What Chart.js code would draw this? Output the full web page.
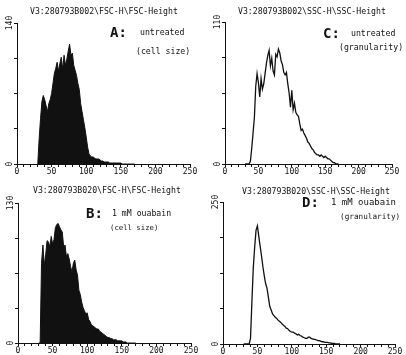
<!DOCTYPE html>
<html>
<head>
<meta charset="utf-8">
<script src="https://cdn.jsdelivr.net/npm/chart.js@4.4.1/dist/chart.umd.min.js"></script>
<style>
  html, body { margin: 0; padding: 0; background: #fff; }
  #page { position: relative; width: 406px; height: 355px; overflow: hidden;
          font-family: 'DejaVu Sans Mono', monospace; color: #111; }
  canvas { position: absolute; }
  .lbl { position: absolute; white-space: nowrap; font-size: 8.2px; line-height: 10px; }
  .big { position: absolute; white-space: nowrap; font-size: 14px; line-height: 14px; font-weight: bold; }
</style>
</head>
<body>
<div id="page">
  <canvas id="chartA" width="203" height="178" style="left:0;top:0"></canvas>
  <canvas id="chartC" width="203" height="178" style="left:203px;top:0"></canvas>
  <canvas id="chartB" width="203" height="177" style="left:0;top:178px"></canvas>
  <canvas id="chartD" width="203" height="177" style="left:203px;top:178px"></canvas>

  <div class="lbl" style="left:30px;top:6px">V3:280793B002\FSC-H\FSC-Height</div>
  <div class="big" style="left:110px;top:25px">A:</div>
  <div class="lbl" style="left:140px;top:27px">untreated</div>
  <div class="lbl" style="left:136px;top:46px">(cell size)</div>

  <div class="lbl" style="left:238px;top:6px">V3:280793B002\SSC-H\SSC-Height</div>
  <div class="big" style="left:323px;top:26px">C:</div>
  <div class="lbl" style="left:351px;top:28px">untreated</div>
  <div class="lbl" style="left:339px;top:42px">(granularity)</div>

  <div class="lbl" style="left:33px;top:185px">V3:280793B020\FSC-H\FSC-Height</div>
  <div class="big" style="left:86px;top:206px">B:</div>
  <div class="lbl" style="left:112px;top:208px">1 mM ouabain</div>
  <div class="lbl" style="left:110px;top:223px;font-size:7.3px">(cell size)</div>

  <div class="lbl" style="left:242px;top:186px">V3:280793B020\SSC-H\SSC-Height</div>
  <div class="big" style="left:302px;top:195px">D:</div>
  <div class="lbl" style="left:331px;top:197px;font-size:9px">1 mM ouabain</div>
  <div class="lbl" style="left:340px;top:212px;font-size:7.7px">(granularity)</div>
</div>

<script>
// ---- channel numbers (x) and event counts ----
const channels = [30,32,34,36,38,40,42,44,46,48,50,52,54,56,58,60,62,64,66,68,
  70,72,74,76,78,80,82,84,86,88,90,92,94,96,98,100,102,104,106,108,
  110,112,114,116,118,120,122,124,126,128,130,132,134,136,138,140,142,144,146,148,
  150,152,154,156,158,160,162,164,166,168,170];

// A: untreated, FSC (cell size)
const fscUntreated = [0,25,45,62,68,64,58,52,60,64,70,80,90,95,101,92,100,106,94,108,
  98,104,112,119,108,110,98,93,88,80,74,60,52,44,36,27,17,10,8,7,
  7,6,5,5,5,4,3,3,2,2,2,2,1,1,1,1,1,1,1,1,
  1,0,0,0,0,0,0,0,0,0,0];

// C: untreated, SSC (granularity)
const sscUntreated = [0,0,0,0,2,12,24,36,60,70,63,52,66,58,62,70,78,84,88,76,
  82,72,69,85,83,89,86,80,77,71,69,71,62,55,44,57,42,47,40,38,
  37,31,26,27,24,22,20,17,16,14,12,11,9,8,7,7,6,7,6,5,
  6,5,4,4,3,2,1,1,0,0,0];

// B: 1 mM ouabain, FSC (cell size)
const fscOuabain = [0,0,74,91,72,82,95,94,89,99,92,96,107,110,111,108,105,103,89,91,
  80,83,78,71,66,74,77,68,63,49,45,38,33,30,27,28,22,20,17,16,
  15,14,13,13,11,10,9,8,7,6,5,5,4,4,3,3,3,2,2,2,
  2,1,1,1,0,0,0,0,0,0,0];

// D: 1 mM ouabain, SSC (granularity)
const sscOuabain = [0,0,0,0,0,10,74,134,170,200,208,190,172,155,136,120,106,98,82,66,
  60,53,50,47,45,42,40,38,35,33,31,28,27,24,22,21,21,19,18,16,
  17,15,14,12,11,10,10,12,12,10,9,8,8,7,6,6,5,4,4,3,
  3,3,2,2,1,1,1,0,0,0,0];

const xLabelValues = [0, 50, 100, 150, 200, 250];
const panelMax = [140, 110, 130, 250];   // A, C, B, D

const ink = '#111';
const tickFont = { family: "'DejaVu Sans Mono', monospace", size: 8 };

// y end labels (0 and max) are printed sideways, like the original plotter output
const sidewaysYLabels = {
  id: 'sidewaysYLabels',
  afterDraw(chart) {
    const s = chart.scales.y;
    const ctx = chart.ctx;
    ctx.save();
    ctx.font = "8px 'DejaVu Sans Mono', monospace";
    ctx.fillStyle = ink;
    ctx.textAlign = 'center';
    ctx.textBaseline = 'middle';
    [s.min, s.max].forEach(v => {
      ctx.save();
      ctx.translate(s.right - 7.5, s.getPixelForValue(v));
      ctx.rotate(-Math.PI / 2);
      ctx.fillText(String(v), 0, 0);
      ctx.restore();
    });
    ctx.restore();
  }
};

function makeHistogram(canvasId, counts, yMax, filled, area) {
  const cv = document.getElementById(canvasId);
  const points = channels.map((c, i) => ({ x: c, y: counts[i] }));

  return new Chart(cv, {
    type: 'line',
    data: {
      datasets: [{
        data: points,
        borderColor: ink,
        backgroundColor: ink,
        borderWidth: filled ? 1 : 1.3,
        fill: filled ? 'origin' : false,
        pointRadius: 0,
        tension: 0
      }]
    },
    plugins: [sidewaysYLabels],
    options: {
      responsive: false,
      animation: false,
      events: [],
      layout: { padding: { top: area.top, right: cv.width - area.right, left: 0, bottom: 0 } },
      plugins: { legend: { display: false }, tooltip: { enabled: false } },
      scales: {
        x: {
          type: 'linear', min: 0, max: 250,
          afterFit: s => { s.height = cv.height - area.bottom; },
          ticks: {
            stepSize: 10, autoSkip: false, maxRotation: 0, minRotation: 0,
            padding: 0, color: ink, font: tickFont,
            callback: v => xLabelValues.includes(v) ? String(v) : ''
          },
          grid: { drawOnChartArea: false, tickLength: 3, color: ink },
          border: { color: ink, width: 1 }
        },
        y: {
          type: 'linear', min: 0, max: yMax,
          afterFit: s => { s.width = area.left; },
          ticks: {
            stepSize: yMax / 4, autoSkip: false, color: ink, font: tickFont,
            callback: () => ''
          },
          grid: { drawOnChartArea: false, tickLength: 3, color: ink },
          border: { color: ink, width: 1 }
        }
      }
    }
  });
}

makeHistogram('chartA', fscUntreated, panelMax[0], true,  { left: 17, right: 190, top: 23, bottom: 164 });
makeHistogram('chartC', sscUntreated, panelMax[1], false, { left: 22, right: 189, top: 22, bottom: 164 });
makeHistogram('chartB', fscOuabain,   panelMax[2], true,  { left: 18, right: 191, top: 25, bottom: 165 });
makeHistogram('chartD', sscOuabain,   panelMax[3], false, { left: 20, right: 192, top: 24, bottom: 166 });
</script>
</body>
</html>
